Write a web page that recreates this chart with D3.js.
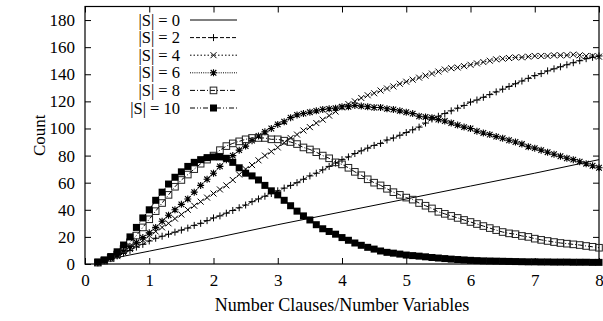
<!DOCTYPE html>
<html>
<head>
<meta charset="utf-8">
<script src="https://cdn.jsdelivr.net/npm/d3@7"></script>
<style>
  body { margin: 0; background: #fff; }
  svg text { font-family: "Liberation Serif", "Times New Roman", serif; fill: #000; }
</style>
</head>
<body>
<div id="chart"></div>
<script>
// ratio grid (clauses / variables)
const ratios = [0.2, 0.3, 0.4, 0.5, 0.6, 0.7, 0.8, 0.9, 1.0,
  1.1, 1.2, 1.3, 1.4, 1.5, 1.6, 1.7, 1.8, 1.9, 2.0,
  2.1, 2.2, 2.3, 2.4, 2.5, 2.6, 2.7, 2.8, 2.9, 3.0,
  3.1, 3.2, 3.3, 3.4, 3.5, 3.6, 3.7, 3.8, 3.9, 4.0,
  4.1, 4.2, 4.3, 4.4, 4.5, 4.6, 4.7, 4.8, 4.9, 5.0,
  5.1, 5.2, 5.3, 5.4, 5.5, 5.6, 5.7, 5.8, 5.9, 6.0,
  6.1, 6.2, 6.3, 6.4, 6.5, 6.6, 6.7, 6.8, 6.9, 7.0,
  7.1, 7.2, 7.3, 7.4, 7.5, 7.6, 7.7, 7.8, 7.9, 8.0];

// |S| = 0 is a plain line
const s0Ratios = [0.2, 1, 2, 3, 4, 5, 6, 7, 8];
const s0 = [2, 9.5, 19, 29, 38.5, 48, 57.5, 67, 77];

const s2 = [1, 2.5, 4, 6, 8, 10, 12.5, 14.5, 17,
  19, 20.5, 22, 23.5, 25, 26.5, 28.5, 30, 32, 34,
  35.5, 37.5, 39.5, 41.5, 43.5, 46, 48, 50, 52, 54,
  56, 58, 60, 62.5, 65, 67, 69.5, 72, 74.5, 77,
  79, 81.5, 83.5, 85.5, 87.5, 89, 91.5, 93, 95, 97,
  99, 101, 104, 107, 109, 111, 113, 115, 117, 119.5,
  121, 123, 125, 127, 129, 131, 133, 135, 137, 139,
  140.5, 142.5, 144, 145.5, 147, 148.5, 150, 151.5, 152.5, 153.5];

const s4 = [1, 2.5, 4, 6, 8.5, 11, 14, 17.5, 21,
  24, 27, 30, 33.5, 36.5, 40, 43, 46, 49, 52,
  55, 58, 62, 66, 70, 73, 76.5, 80, 83, 86,
  89.5, 93, 95.5, 98.5, 101, 104, 106.5, 109.5, 112.5, 115.5,
  118, 120, 122.5, 124.5, 126, 128, 129.5, 131, 133, 134.5,
  136, 137.5, 139, 140.5, 142, 143.5, 144.5, 145, 146, 147,
  148, 149, 150, 151, 151.5, 152, 152.5, 152.5, 153, 153.5,
  153.5, 153.5, 154, 154, 154, 154.5, 154, 153.5, 153.5, 153];

const s6 = [1, 2.5, 4.5, 6.5, 9.5, 13, 16, 19.5, 23,
  27, 31.5, 36, 40, 44, 48, 53, 58, 62.5, 67,
  72, 77, 80, 84, 87, 91, 94.5, 97.5, 100, 103,
  105, 108, 110, 111, 112, 113, 114, 114.5, 115, 116,
  116, 117, 116.5, 116, 115.5, 115.5, 114.5, 114, 113, 112,
  111, 109, 108.5, 108, 106.5, 105.5, 104, 102.5, 101, 100,
  98, 96.7, 95.5, 94, 92.8, 91.3, 90, 88.5, 86.5, 85.5,
  84, 82.5, 81, 79.5, 78, 77, 75.5, 74, 72.5, 71];

const s8 = [1, 2.5, 4.5, 7, 11, 16, 21, 27, 33,
  39, 45, 51, 57, 62, 66, 70, 74, 77, 80,
  84, 87, 89, 90.5, 92, 93, 93, 93, 92, 92,
  91, 90, 88.5, 86, 84.5, 82.5, 80, 78, 75, 73.5,
  71, 68, 65.5, 62.5, 60, 58, 55.5, 53, 51, 49,
  47.5, 45, 43, 41, 38.5, 37, 35.5, 34, 32.5, 31,
  29.5, 28, 26.5, 25, 23.6, 22.6, 22, 20.7, 20, 18.7,
  17.8, 17, 16.2, 15.5, 15, 14.5, 14, 13.3, 12.7, 12];

const s10 = [1.5, 3, 5.5, 9, 14, 20, 27, 34, 40,
  47, 53, 59, 64, 68, 72, 75, 77, 78.5, 79,
  79, 78, 75, 71, 67, 65, 62, 58, 54, 51,
  47, 43, 39, 35.5, 32.5, 29, 26, 24, 22, 19.5,
  17.5, 15.5, 13.8, 12.3, 11, 9.6, 8.6, 8, 7.3, 6.6,
  6.2, 5.8, 5.3, 4.8, 4.4, 4, 3.6, 3.3, 3, 2.7,
  2.5, 2.3, 2.2, 2.1, 2, 1.9, 1.8, 1.7, 1.6, 1.6,
  1.5, 1.5, 1.4, 1.4, 1.4, 1.3, 1.3, 1.3, 1.2, 1.2];

const legendLabels = ['|S| = 0', '|S| = 2', '|S| = 4', '|S| = 6', '|S| = 8', '|S| = 10'];
const xTicks = [0, 1, 2, 3, 4, 5, 6, 7, 8];
const yTicks = [0, 20, 40, 60, 80, 100, 120, 140, 160, 180];

const W = 603, H = 321;
const margin = { left: 85, right: 4, top: 6.5, bottom: 57 };
const FONT = '"Liberation Serif", "Times New Roman", serif';

const svg = d3.select('#chart').append('svg')
  .attr('width', W).attr('height', H);

const x = d3.scaleLinear().domain([0, 8]).range([margin.left, W - margin.right]);
const y = d3.scaleLinear().domain([0, 190]).range([H - margin.bottom, margin.top]);

// axes with inward ticks, mirrored on top/right like gnuplot
const tick = 6;
svg.append('g')
  .attr('transform', `translate(${margin.left},0)`)
  .call(d3.axisLeft(y).tickValues(yTicks).tickSizeInner(-tick).tickSizeOuter(0).tickPadding(10))
  .call(g => g.select('.domain').remove())
  .call(g => g.attr('font-family', FONT).attr('font-size', 17));

svg.append('g')
  .attr('transform', `translate(${W - margin.right},0)`)
  .call(d3.axisRight(y).tickValues(yTicks).tickSizeInner(-tick).tickSizeOuter(0).tickFormat(''))
  .call(g => g.select('.domain').remove());

svg.append('g')
  .attr('transform', `translate(0,${H - margin.bottom})`)
  .call(d3.axisBottom(x).tickValues(xTicks).tickSizeInner(-tick).tickSizeOuter(0).tickPadding(10))
  .call(g => g.select('.domain').remove())
  .call(g => g.attr('font-family', FONT).attr('font-size', 17));

svg.append('g')
  .attr('transform', `translate(0,${margin.top})`)
  .call(d3.axisTop(x).tickValues(xTicks).tickSizeInner(-tick).tickSizeOuter(0).tickFormat(''))
  .call(g => g.select('.domain').remove());

svg.append('rect')
  .attr('x', margin.left).attr('y', margin.top)
  .attr('width', W - margin.right - margin.left)
  .attr('height', H - margin.bottom - margin.top)
  .attr('fill', 'none').attr('stroke', '#000').attr('stroke-width', 1.2);

// axis titles
svg.append('text')
  .attr('transform', `translate(45,${(margin.top + H - margin.bottom) / 2}) rotate(-90)`)
  .attr('text-anchor', 'middle')
  .attr('font-size', 17)
  .text('Count');

svg.append('text')
  .attr('x', (margin.left + W - margin.right) / 2)
  .attr('y', 311)
  .attr('text-anchor', 'middle')
  .attr('font-size', 18)
  .text('Number Clauses/Number Variables');

// marker shapes
const mk = {
  plus: (g, r) => g.append('path').attr('d', `M${-r},0H${r}M0,${-r}V${r}`)
    .attr('stroke', '#000').attr('stroke-width', 1).attr('fill', 'none'),
  cross: (g, r) => g.append('path').attr('d', `M${-r},${-r}L${r},${r}M${-r},${r}L${r},${-r}`)
    .attr('stroke', '#000').attr('stroke-width', 1).attr('fill', 'none'),
  star: (g, r) => g.append('path')
    .attr('d', `M${-r},0H${r}M0,${-r}V${r}M${-r * 0.8},${-r * 0.8}L${r * 0.8},${r * 0.8}M${-r * 0.8},${r * 0.8}L${r * 0.8},${-r * 0.8}`)
    .attr('stroke', '#000').attr('stroke-width', 1.1).attr('fill', 'none'),
  box: (g, r) => g.append('rect').attr('x', -r).attr('y', -r).attr('width', 2 * r).attr('height', 2 * r)
    .attr('stroke', '#222').attr('stroke-width', 1).attr('fill', 'none'),
  fbox: (g, r) => g.append('rect').attr('x', -r).attr('y', -r).attr('width', 2 * r).attr('height', 2 * r)
    .attr('fill', '#000')
};

const series = [
  { name: legendLabels[0], xs: s0Ratios, ys: s0, dash: null, marker: null },
  { name: legendLabels[1], xs: ratios, ys: s2, dash: '4,2', marker: 'plus', r: 3.5 },
  { name: legendLabels[2], xs: ratios, ys: s4, dash: '1.5,2', marker: 'cross', r: 3 },
  { name: legendLabels[3], xs: ratios, ys: s6, dash: '1,1.2', marker: 'star', r: 3.5 },
  { name: legendLabels[4], xs: ratios, ys: s8, dash: '5,2,1,2', marker: 'box', r: 3.3 },
  { name: legendLabels[5], xs: ratios, ys: s10, dash: '5,2,1,2,1,2', marker: 'fbox', r: 3.5 }
];

const line = d3.line().x(d => x(d[0])).y(d => y(d[1]));

const plot = svg.append('g');
series.forEach(s => {
  const pts = s.xs.map((v, i) => [v, s.ys[i]]);
  plot.append('path')
    .attr('d', line(pts))
    .attr('fill', 'none')
    .attr('stroke', '#000')
    .attr('stroke-width', 1)
    .attr('stroke-dasharray', s.dash);
  if (s.marker) {
    pts.forEach(p => {
      const g = plot.append('g').attr('transform', `translate(${x(p[0])},${y(p[1])})`);
      mk[s.marker](g, s.r);
    });
  }
});

// legend
const legend = svg.append('g');
const ly0 = 20, ldy = 17.6;
series.forEach((s, i) => {
  const ly = ly0 + i * ldy;
  legend.append('text')
    .attr('x', 180).attr('y', ly + 5.5)
    .attr('text-anchor', 'end')
    .attr('font-size', 16.5)
    .text(s.name);
  legend.append('line')
    .attr('x1', 190).attr('x2', 237).attr('y1', ly).attr('y2', ly)
    .attr('stroke', '#000').attr('stroke-width', 1)
    .attr('stroke-dasharray', s.dash);
  if (s.marker) {
    const g = legend.append('g').attr('transform', `translate(213.5,${ly})`);
    mk[s.marker](g, s.r);
  }
});
</script>
</body>
</html>
